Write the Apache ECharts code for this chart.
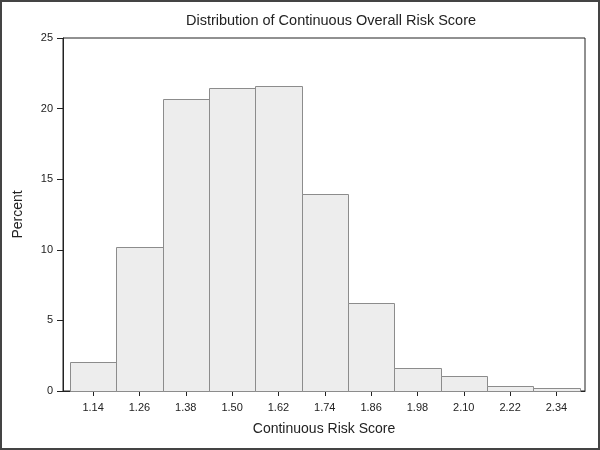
<!DOCTYPE html>
<html>
<head>
<meta charset="utf-8">
<style>
  html, body { margin: 0; padding: 0; background: #fff; }
  #chart { width: 600px; height: 450px; }
</style>
<script src="https://cdn.jsdelivr.net/npm/echarts@6/dist/echarts.min.js"></script>
</head>
<body>
<div id="chart"></div>
<script>
  // bin midpoints and percent per bin
  const binCenters = [1.14, 1.26, 1.38, 1.50, 1.62, 1.74, 1.86, 1.98, 2.10, 2.22, 2.34]
  const percents = [2.05, 10.22, 20.66, 21.44, 21.62, 13.93, 6.23, 1.65, 1.04, 0.38, 0.19]
  const binWidth = 0.12
  const xTickLabels = [1.14, 1.26, 1.38, 1.50, 1.62, 1.74, 1.86, 1.98, 2.10, 2.22, 2.34]

  const fontFamily = "'Liberation Sans', Arial, sans-serif"
  const textColor = "#222"

  const chart = echarts.init(document.getElementById("chart"))

  const renderBin = (params, api) => {
    const center = api.value(0)
    const pct = api.value(1)
    const topLeft = api.coord([center - binWidth / 2, pct])
    const bottomRight = api.coord([center + binWidth / 2, 0])
    return {
      type: "rect",
      shape: {
        x: Math.round(topLeft[0]) + 0.5,
        y: Math.round(topLeft[1]) + 0.5,
        width: Math.round(bottomRight[0]) - Math.round(topLeft[0]),
        height: Math.round(bottomRight[1]) - Math.round(topLeft[1])
      },
      style: {
        fill: "#ededed",
        stroke: "#8c8c8c",
        lineWidth: 1
      }
    }
  }

  chart.setOption({
    animation: false,
    title: {
      text: "Distribution of Continuous Overall Risk Score",
      left: 326,
      textAlign: "center",
      top: 8,
      textStyle: {
        fontFamily: fontFamily,
        fontSize: 14.5,
        fontWeight: "normal",
        color: textColor
      }
    },
    graphic: [
      {
        type: "rect",
        silent: true,
        shape: { x: 1, y: 1, width: 598, height: 448 },
        style: { fill: "none", stroke: "#444", lineWidth: 2 }
      }
    ],
    grid: {
      left: 63,
      right: 15,
      top: 38,
      bottom: 59,
      show: true,
      borderColor: "#222",
      borderWidth: 1,
      backgroundColor: "transparent"
    },
    xAxis: {
      type: "value",
      min: 1.062,
      max: 2.414,
      name: "Continuous Risk Score",
      nameLocation: "middle",
      nameGap: 31,
      nameTextStyle: {
        fontFamily: fontFamily,
        fontSize: 14,
        color: textColor
      },
      axisLine: { show: true, lineStyle: { color: "#222" } },
      axisTick: {
        show: true,
        length: 5,
        lineStyle: { color: "#222" },
        customValues: xTickLabels
      },
      axisLabel: {
        fontFamily: fontFamily,
        fontSize: 11,
        color: textColor,
        margin: 11,
        customValues: xTickLabels,
        formatter: v => v.toFixed(2)
      },
      splitLine: { show: false }
    },
    yAxis: {
      type: "value",
      min: 0,
      max: 25,
      interval: 5,
      name: "Percent",
      nameLocation: "middle",
      nameGap: 38,
      nameTextStyle: {
        fontFamily: fontFamily,
        fontSize: 14,
        color: textColor
      },
      axisLine: { show: true, lineStyle: { color: "#222" } },
      axisTick: { show: true, length: 6, lineStyle: { color: "#222" } },
      axisLabel: {
        fontFamily: fontFamily,
        fontSize: 11,
        color: textColor,
        margin: 10
      },
      splitLine: { show: false }
    },
    series: [
      {
        type: "custom",
        renderItem: renderBin,
        encode: { x: 0, y: 1 },
        data: binCenters.map((c, i) => [c, percents[i]])
      }
    ]
  })

  window.addEventListener("resize", () => {
    chart && chart.resize()
  })
</script>
</body>
</html>
